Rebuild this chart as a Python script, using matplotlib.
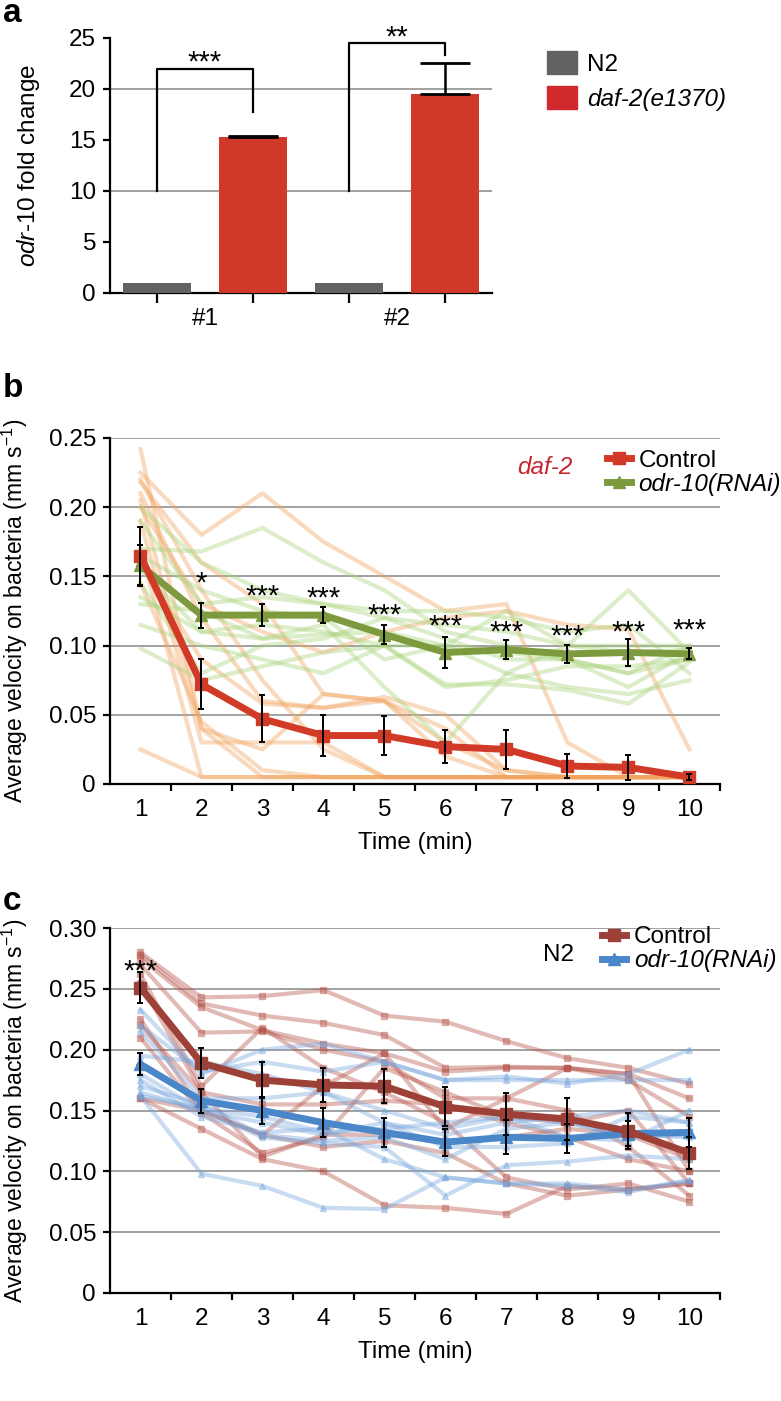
import numpy as np
import matplotlib
matplotlib.use('Agg')
import matplotlib.pyplot as plt
from matplotlib.ticker import FuncFormatter, FixedLocator
from matplotlib.patches import Patch

plt.rcParams['font.family'] = ['Liberation Sans', 'DejaVu Sans']
plt.rcParams['mathtext.fontset'] = 'custom'
plt.rcParams['mathtext.rm'] = 'Liberation Sans'
plt.rcParams['mathtext.it'] = 'Liberation Sans:italic'
plt.rcParams['mathtext.default'] = 'regular'
fs = 17.5

# ---- panel a : qPCR fold change
groups = ['#1', '#2']
n2_fold = [1.0, 1.0]
daf2_fold = [15.3, 19.5]
daf2_err = [0.05, 3.0]

# ---- panel b : daf-2 background
minutes = np.arange(1, 11)
b_ctrl_mean = [0.165, 0.072, 0.047, 0.035, 0.035, 0.027, 0.025, 0.013, 0.012, 0.005]
b_ctrl_err = [0.021, 0.018, 0.017, 0.015, 0.014, 0.012, 0.014, 0.009, 0.009, 0.002]
b_rnai_mean = [0.158, 0.122, 0.122, 0.122, 0.108, 0.095, 0.097, 0.094, 0.095, 0.094]
b_rnai_err = [0.015, 0.009, 0.008, 0.006, 0.007, 0.011, 0.007, 0.0065, 0.010, 0.004]
b_stars = ['', '*', '***', '***', '***', '***', '***', '***', '***', '***']
b_star_y = [0, 0.151, 0.142, 0.140, 0.128, 0.120, 0.116, 0.113, 0.116, 0.117]

b_ctrl_worms = [
    [0.242, 0.040, 0.005, 0.005, 0.005, 0.005, 0.005, 0.005, 0.005, 0.005],
    [0.225, 0.180, 0.210, 0.175, 0.150, 0.125, 0.130, 0.030, 0.005, 0.005],
    [0.218, 0.160, 0.130, 0.065, 0.060, 0.040, 0.005, 0.005, 0.005, 0.005],
    [0.210, 0.120, 0.060, 0.055, 0.063, 0.050, 0.010, 0.005, 0.005, 0.005],
    [0.205, 0.040, 0.025, 0.065, 0.060, 0.020, 0.005, 0.005, 0.005, 0.005],
    [0.190, 0.030, 0.030, 0.030, 0.005, 0.005, 0.005, 0.005, 0.005, 0.005],
    [0.170, 0.005, 0.005, 0.005, 0.005, 0.005, 0.005, 0.005, 0.005, 0.005],
    [0.145, 0.045, 0.010, 0.005, 0.005, 0.005, 0.005, 0.005, 0.005, 0.005],
    [0.025, 0.005, 0.005, 0.005, 0.005, 0.005, 0.005, 0.005, 0.005, 0.005],
    [0.220, 0.140, 0.075, 0.025, 0.005, 0.005, 0.005, 0.005, 0.005, 0.005],
    [0.160, 0.090, 0.058, 0.055, 0.060, 0.030, 0.010, 0.005, 0.005, 0.005],
    [0.200, 0.130, 0.110, 0.095, 0.110, 0.120, 0.125, 0.115, 0.112, 0.025],
]
b_rnai_worms = [
    [0.170, 0.168, 0.185, 0.160, 0.140, 0.110, 0.100, 0.090, 0.080, 0.090],
    [0.200, 0.160, 0.140, 0.130, 0.125, 0.125, 0.120, 0.110, 0.115, 0.080],
    [0.190, 0.130, 0.135, 0.130, 0.120, 0.115, 0.110, 0.100, 0.140, 0.095],
    [0.165, 0.140, 0.125, 0.120, 0.090, 0.100, 0.125, 0.100, 0.100, 0.100],
    [0.155, 0.110, 0.115, 0.110, 0.100, 0.100, 0.080, 0.100, 0.095, 0.097],
    [0.135, 0.110, 0.105, 0.115, 0.070, 0.030, 0.080, 0.070, 0.065, 0.075],
    [0.115, 0.100, 0.090, 0.080, 0.100, 0.070, 0.075, 0.085, 0.085, 0.090],
    [0.098, 0.075, 0.085, 0.095, 0.100, 0.072, 0.072, 0.068, 0.058, 0.088],
    [0.145, 0.080, 0.100, 0.105, 0.120, 0.105, 0.090, 0.090, 0.070, 0.095],
    [0.130, 0.125, 0.105, 0.108, 0.110, 0.100, 0.095, 0.090, 0.080, 0.100],
]

# ---- panel c : N2 background
c_ctrl_mean = [0.251, 0.189, 0.175, 0.171, 0.170, 0.153, 0.147, 0.143, 0.133, 0.115]
c_ctrl_err = [0.013, 0.012, 0.015, 0.014, 0.014, 0.016, 0.017, 0.017, 0.015, 0.013]
c_rnai_mean = [0.188, 0.158, 0.150, 0.140, 0.132, 0.124, 0.128, 0.127, 0.131, 0.132]
c_rnai_err = [0.009, 0.010, 0.011, 0.012, 0.012, 0.011, 0.014, 0.012, 0.010, 0.012]
c_stars = ['***', '', '', '', '', '', '', '', '', '']
c_star_y = [0.271, 0, 0, 0, 0, 0, 0, 0, 0, 0]

c_ctrl_worms = [
    [0.280, 0.243, 0.244, 0.249, 0.228, 0.223, 0.207, 0.193, 0.185, 0.172],
    [0.278, 0.238, 0.228, 0.222, 0.212, 0.185, 0.186, 0.185, 0.180, 0.160],
    [0.275, 0.235, 0.216, 0.205, 0.197, 0.182, 0.185, 0.185, 0.175, 0.145],
    [0.270, 0.214, 0.215, 0.200, 0.190, 0.160, 0.160, 0.150, 0.120, 0.080],
    [0.262, 0.170, 0.218, 0.185, 0.165, 0.140, 0.095, 0.085, 0.090, 0.075],
    [0.255, 0.165, 0.155, 0.155, 0.158, 0.155, 0.140, 0.128, 0.110, 0.100],
    [0.225, 0.150, 0.130, 0.170, 0.197, 0.135, 0.160, 0.185, 0.180, 0.100],
    [0.220, 0.165, 0.112, 0.130, 0.130, 0.125, 0.128, 0.135, 0.130, 0.110],
    [0.210, 0.148, 0.115, 0.128, 0.185, 0.165, 0.145, 0.140, 0.150, 0.090],
    [0.160, 0.135, 0.110, 0.100, 0.072, 0.070, 0.065, 0.088, 0.085, 0.090],
    [0.160, 0.150, 0.130, 0.120, 0.125, 0.115, 0.090, 0.080, 0.085, 0.090],
]
c_rnai_worms = [
    [0.233, 0.180, 0.200, 0.205, 0.190, 0.175, 0.178, 0.172, 0.180, 0.200],
    [0.220, 0.182, 0.190, 0.182, 0.190, 0.175, 0.175, 0.175, 0.175, 0.175],
    [0.215, 0.160, 0.160, 0.165, 0.140, 0.130, 0.140, 0.145, 0.150, 0.140],
    [0.195, 0.190, 0.180, 0.165, 0.150, 0.135, 0.145, 0.128, 0.125, 0.150],
    [0.180, 0.150, 0.140, 0.130, 0.140, 0.120, 0.120, 0.123, 0.145, 0.140],
    [0.170, 0.155, 0.130, 0.125, 0.128, 0.110, 0.135, 0.140, 0.128, 0.130],
    [0.165, 0.150, 0.128, 0.123, 0.120, 0.080, 0.105, 0.108, 0.113, 0.110],
    [0.162, 0.098, 0.088, 0.070, 0.069, 0.095, 0.090, 0.088, 0.083, 0.093],
    [0.175, 0.145, 0.132, 0.135, 0.110, 0.095, 0.090, 0.090, 0.085, 0.092],
    [0.162, 0.152, 0.145, 0.132, 0.135, 0.140, 0.145, 0.140, 0.130, 0.128],
]

fig = plt.figure(figsize=(7.81, 14.01), dpi=100)


def style_axes(ax):
    for s in ['top', 'right']:
        ax.spines[s].set_visible(False)
    for s in ['left', 'bottom']:
        ax.spines[s].set_linewidth(1.6)
    ax.tick_params(axis='both', which='major', direction='out', length=5,
                   width=1.6, labelsize=fs, pad=5)


def star(ax, x, y, s):
    ax.annotate(s, xy=(x, y), xytext=(0, -12), textcoords='offset points',
                ha='center', va='baseline', fontsize=21, zorder=10,
                annotation_clip=False)


# ================= panel a
ax = fig.add_axes([0.1408, 0.7909, 0.4891, 0.1820])
style_axes(ax)
xa = np.arange(4)
ax.bar([0, 2], n2_fold, width=0.71, color='#626262', zorder=3)
ax.bar([1, 3], daf2_fold, width=0.71, color='#d0382a', zorder=3)
ax.errorbar([1, 3], daf2_fold, yerr=[[0, 0], daf2_err], fmt='none',
            ecolor='black', elinewidth=1.8, capsize=18, capthick=2, zorder=4)
for yv in [10, 20]:
    ax.axhline(yv, color='#9a9a9a', lw=1.3, zorder=1)
ax.set_xlim(-0.49, 3.49)
ax.set_ylim(0, 25)
ax.set_yticks([0, 5, 10, 15, 20, 25])
ax.xaxis.set_major_locator(FixedLocator(xa))
ax.set_xticklabels([])
ax.xaxis.set_minor_locator(FixedLocator([0.5, 2.5]))
ax.set_xticklabels(groups, minor=True)
ax.tick_params(axis='x', which='minor', length=0, labelsize=fs, pad=11)
ax.tick_params(axis='x', which='major', length=7)
ax.set_ylabel('$\\mathit{odr\u201010}$ fold change', fontsize=fs)
ax.yaxis.set_label_coords(-0.178, 0.5)
# significance brackets
ax.plot([0, 0, 1, 1], [10, 22, 22, 17.7], color='black', lw=1.6, zorder=5, clip_on=False)
ax.plot([2, 2, 3, 3], [10, 24.5, 24.5, 23.3], color='black', lw=1.6, zorder=5, clip_on=False)
star(ax, 0.5, 23.4, '***')
star(ax, 2.5, 25.9, '**')
leg = ax.legend(handles=[Patch(color='#626262'), Patch(color='#d12a2e')],
                labels=['N2', 'daf-2(e1370)'], loc='upper left',
                bbox_to_anchor=(0.7004, 0.9636), bbox_transform=fig.transFigure,
                frameon=False, fontsize=fs, handlelength=1.25, handleheight=1.1,
                handletextpad=0.4, labelspacing=0.4, borderpad=0, borderaxespad=0)
leg.get_texts()[1].set_fontstyle('italic')


def velocity_panel(rect, ymax, ctrl_worms, rnai_worms, ctrl_mean, ctrl_err,
                   rnai_mean, rnai_err, stars, star_y, colors, worm_marks):
    ax = fig.add_axes(rect)
    style_axes(ax)
    wc, wr, mc, mr = colors
    for w in ctrl_worms:
        ax.plot(minutes, w, color=wc, lw=3, alpha=0.4, marker=worm_marks[0],
                ms=4.5, zorder=2)
    for w in rnai_worms:
        ax.plot(minutes, w, color=wr, lw=3, alpha=0.4, marker=worm_marks[1],
                ms=4.5, zorder=2)
    l2, = ax.plot(minutes, rnai_mean, color=mr, lw=5, marker='^', ms=8, zorder=4)
    l1, = ax.plot(minutes, ctrl_mean, color=mc, lw=5, marker='s', ms=8, zorder=5)
    ax.errorbar(minutes, rnai_mean, yerr=rnai_err, fmt='none', ecolor='black',
                elinewidth=1.4, capsize=2.2, capthick=1.4, zorder=6)
    ax.errorbar(minutes, ctrl_mean, yerr=ctrl_err, fmt='none', ecolor='black',
                elinewidth=1.4, capsize=2.2, capthick=1.4, zorder=6)
    for x, s, y in zip(minutes, stars, star_y):
        if s:
            star(ax, x, y, s)
    ax.set_xlim(0.5, 10.5)
    ax.set_ylim(0, ymax)
    yt = np.arange(0, ymax + 0.001, 0.05)
    ax.set_yticks(yt)
    ax.yaxis.set_major_formatter(FuncFormatter(lambda v, p: '0' if abs(v) < 1e-9 else f'{v:.2f}'))
    ax.grid(axis='y', color='#9a9a9a', lw=1.3, zorder=0)
    ax.set_axisbelow(True)
    ax.xaxis.set_major_locator(FixedLocator(np.arange(1.5, 10.6, 1)))
    ax.set_xticklabels([])
    ax.xaxis.set_minor_locator(FixedLocator(minutes))
    ax.set_xticklabels([str(m) for m in minutes], minor=True)
    ax.tick_params(axis='x', which='minor', length=0, labelsize=fs, pad=11)
    ax.set_xlabel('Time (min)', fontsize=fs, labelpad=8)
    ax.set_ylabel('Average velocity on bacteria (mm s$^{-1}$)', fontsize=16.5)
    ax.yaxis.set_label_coords(-0.131, 0.5)
    return ax, l1, l2


# ================= panel b
axb, h1, h2 = velocity_panel([0.1408, 0.4404, 0.7810, 0.2470], 0.25,
                             b_ctrl_worms, b_rnai_worms, b_ctrl_mean, b_ctrl_err,
                             b_rnai_mean, b_rnai_err, b_stars, b_star_y,
                             ['#f2a35e', '#a9d47c', '#d23a28', '#7d9b3e'], [None, None])
leg = axb.legend(handles=[h1, h2], labels=['Control', 'odr-10(RNAi)'], loc='upper left',
                 bbox_to_anchor=(0.777, 0.679), bbox_transform=fig.transFigure,
                 frameon=False, fontsize=fs, handlelength=1.0, handletextpad=0.3,
                 labelspacing=0.05, borderpad=0, borderaxespad=0)
leg.get_texts()[1].set_fontstyle('italic')
fig.text(0.698, 0.666, 'daf-2', color='#c8262f', fontstyle='italic', fontsize=fs,
         ha='center', va='center')

# ================= panel c
axc, h1, h2 = velocity_panel([0.1408, 0.0771, 0.7810, 0.2605], 0.30,
                             c_ctrl_worms, c_rnai_worms, c_ctrl_mean, c_ctrl_err,
                             c_rnai_mean, c_rnai_err, c_stars, c_star_y,
                             ['#b5534a', '#76a6dc', '#9c4038', '#4a87c9'], ['s', '^'])
leg = axc.legend(handles=[h1, h2], labels=['Control', 'odr-10(RNAi)'], loc='upper left',
                 bbox_to_anchor=(0.771, 0.339), bbox_transform=fig.transFigure,
                 frameon=False, fontsize=fs, handlelength=1.0, handletextpad=0.3,
                 labelspacing=0.05, borderpad=0, borderaxespad=0)
leg.get_texts()[1].set_fontstyle('italic')
fig.text(0.7145, 0.3183, 'N2', fontsize=fs, ha='center', va='center')

# panel letters
fig.text(0.004, 1 - 22 / 1401, 'a', fontsize=24, fontweight='bold', va='baseline')
fig.text(0.004, 1 - 397 / 1401, 'b', fontsize=24, fontweight='bold', va='baseline')
fig.text(0.004, 1 - 910 / 1401, 'c', fontsize=24, fontweight='bold', va='baseline')

fig.savefig('out.png', dpi=100)
